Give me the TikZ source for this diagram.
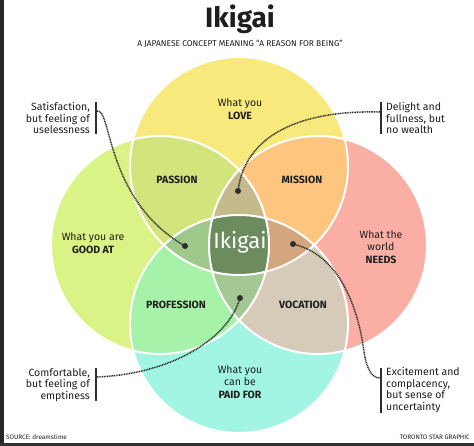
\documentclass[tikz,border=0pt]{standalone}
\usepackage{fontspec}
\setmainfont{Fira Sans}
\definecolor{cTop}{HTML}{F7E97C}
\definecolor{cLeft}{HTML}{DAF387}
\definecolor{cRight}{HTML}{FBAEA3}
\definecolor{cBot}{HTML}{A2F5E2}
\definecolor{cTL}{HTML}{D4E47C}
\definecolor{cTR}{HTML}{FDC57E}
\definecolor{cLB}{HTML}{A6F2A8}
\definecolor{cRB}{HTML}{D5CBB8}
\definecolor{cTLR}{HTML}{C5BA8C}
\definecolor{cTLB}{HTML}{9FC98A}
\definecolor{cTRB}{HTML}{D3A67E}
\definecolor{cLRB}{HTML}{A3C893}
\definecolor{cAll}{HTML}{6C8C5E}
\definecolor{ink}{HTML}{1E1E1E}
\definecolor{wire}{HTML}{2E2E2E}
\newcommand\ciTop{(239,166) circle[radius=109pt]}
\newcommand\ciLeft{(160,245) circle[radius=109pt]}
\newcommand\ciRight{(318,245) circle[radius=109pt]}
\newcommand\ciBot{(239,324) circle[radius=109pt]}
\begin{document}
\begin{tikzpicture}[x=1pt,y=-1pt,
  lbl/.style={font=\fontsize{10.5}{12.5}\selectfont, text=ink, align=center, inner sep=0pt},
  zone/.style={font=\fontsize{10.5}{12.5}\selectfont\bfseries, text=ink, inner sep=0pt},
  note/.style={font=\fontsize{10.5}{11.8}\selectfont, text=ink, inner sep=0pt},
  bar/.style={line width=2.4pt, draw=wire},
  conn/.style={draw=wire, line width=1.5pt, dash pattern=on 1pt off 0.7pt},
  dotnode/.style={circle, fill=wire, minimum size=6pt, inner sep=0pt},
  small/.style={font=\fontsize{6.4}{7}\selectfont, text=ink, inner sep=0pt}]
\useasboundingbox (0,0) rectangle (474,446);
\fill[white] (0,0) rectangle (474,446);
\fill[black!85] (0,0) rectangle (4,446);
\fill[black!80] (0,443) rectangle (474,446);
% circles
\fill[cTop] \ciTop;
\fill[cLeft] \ciLeft;
\fill[cRight] \ciRight;
\fill[cBot] \ciBot;
% pairs
\begin{scope}\clip \ciTop; \fill[cTL] \ciLeft; \fill[cTR] \ciRight; \end{scope}
\begin{scope}\clip \ciBot; \fill[cLB] \ciLeft; \fill[cRB] \ciRight; \end{scope}
% triples
\begin{scope}\clip \ciTop; \clip \ciLeft; \fill[cTLR] \ciRight; \end{scope}
\begin{scope}\clip \ciTop; \clip \ciLeft; \fill[cTLB] \ciBot; \end{scope}
\begin{scope}\clip \ciTop; \clip \ciRight; \fill[cTRB] \ciBot; \end{scope}
\begin{scope}\clip \ciBot; \clip \ciLeft; \fill[cLRB] \ciRight; \end{scope}
% all four
\begin{scope}\clip \ciTop; \clip \ciLeft; \clip \ciRight; \fill[cAll] \ciBot; \end{scope}
% white outlines
\draw[white, line width=2pt] \ciTop \ciLeft \ciRight \ciBot;
% title
\node[font=\fontsize{28}{30}\selectfont\bfseries, text=ink, inner sep=0pt] (title) at (240,19) {Ikigai};
\node[font=\fontsize{8.4}{9}\selectfont, text=ink, inner sep=0pt] (sub) at (240,44) {A JAPANESE CONCEPT MEANING “A REASON FOR BEING”};
% circle labels
\node[lbl] (love) at (240,109) {What you\\\textbf{LOVE}};
\node[lbl] (good) at (93,243) {What you are\\\textbf{GOOD AT}};
\node[lbl] (needs) at (381,247) {What the\\world\\\textbf{NEEDS}};
\node[lbl] (paid) at (240,382) {What you\\can be\\\textbf{PAID FOR}};
\node[zone] (passion) at (177,180) {PASSION};
\node[zone] (mission) at (302,180) {MISSION};
\node[zone] (profession) at (176,305) {PROFESSION};
\node[zone] (vocation) at (303,305) {VOCATION};
\node[font=\fontsize{22}{24}\selectfont, text=white, inner sep=0pt] (ikigai) at (240,242) {Ikigai};
% callouts
\node[note, align=right, anchor=east] (n1) at (90,118) {Satisfaction,\\but feeling of\\uselessness};
\node[note, align=left, anchor=west] (n2) at (386,118) {Delight and\\fullness, but\\no wealth};
\node[note, align=right, anchor=east] (n3) at (90,385) {Comfortable,\\but feeling of\\emptiness};
\node[note, align=left, anchor=west] (n4) at (386,390) {Excitement and\\complacency,\\but sense of\\uncertainty};
\draw[bar] (96,102) -- (96,134);
\draw[bar] (381,102) -- (381,134);
\draw[bar] (96,368) -- (96,401);
\draw[bar] (381,368) -- (381,413);
\coordinate (b1) at (97,111);
\coordinate (b2) at (380,112);
\coordinate (b3) at (97,377);
\coordinate (b4) at (380,378);
\node[dotnode] (d1) at (185,246) {};
\node[dotnode] (d2) at (238,191) {};
\node[dotnode] (d3) at (240,298) {};
\node[dotnode] (d4) at (293,244) {};
\draw[conn] (b1) .. controls (112,108) and (105,200) .. (d1.center);
\draw[conn] (b2) .. controls (300,110) and (245,135) .. (d2.center);
\draw[conn] (b3) .. controls (170,374) and (228,340) .. (d3.center);
\draw[conn] (d4.center) .. controls (345,256) and (360,320) .. (364,352) .. controls (367,370) and (372,378) .. (b4);
% footer
\node[small, anchor=west] (src) at (6,437) {SOURCE: dreamstime};
\node[small, anchor=east] (tsg) at (470,437) {TORONTO STAR GRAPHIC};
\end{tikzpicture}
\end{document}
